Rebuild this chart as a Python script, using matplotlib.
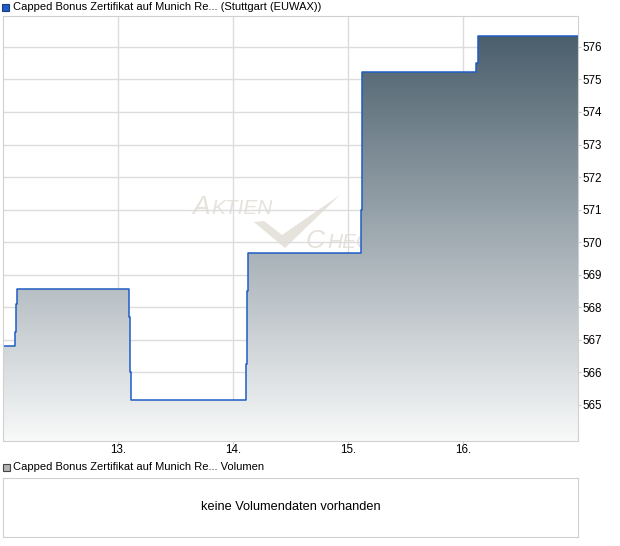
import matplotlib.pyplot as plt
import numpy as np
from matplotlib.colors import LinearSegmentedColormap
from matplotlib.patches import Polygon, Rectangle

plt.rcParams['font.family'] = ['Liberation Sans', 'DejaVu Sans']

# step data (day of month, price)
times = [12.0, 12.107, 12.116, 12.124, 13.098, 13.107, 13.116,
         14.116, 14.124, 14.133, 15.113, 15.126, 16.116, 16.128, 17.0]
prices = [566.8, 567.25, 568.1, 568.55, 567.7, 566.0, 565.15,
          566.25, 568.5, 569.67, 571.0, 575.22, 575.5, 576.33, 576.33]
xticks = [13, 14, 15, 16]
xlabels = ['13.', '14.', '15.', '16.']
yticks = [565, 566, 567, 568, 569, 570, 571, 572, 573, 574, 575, 576]

title = 'Capped Bonus Zertifikat auf Munich Re... (Stuttgart (EUWAX))'
vol_title = 'Capped Bonus Zertifikat auf Munich Re... Volumen'
no_vol = 'keine Volumendaten vorhanden'

W, H = 620, 546
grid_c = '#dcdcdc'
spine_c = '#d0d0d0'
wm_c = '#e6e2dc'


def fx(x):
    return x / W


def fy(y):
    return 1 - y / H


fig = plt.figure(figsize=(6.2, 5.46), dpi=100)

ax = fig.add_axes([fx(3), fy(441), 575 / W, 425 / H])
ymin, ymax = 563.89, 576.95
ax.set_xlim(12, 17)
ax.set_ylim(ymin, ymax)
ax.set_axisbelow(True)
ax.grid(True, color=grid_c, lw=1)
ax.set_xticks(xticks)
ax.set_xticklabels(xlabels)
ax.set_yticks(yticks)
ax.yaxis.tick_right()
ax.tick_params(axis='both', length=2, color=spine_c, labelsize=8.4)
ax.tick_params(axis='x', pad=0.5)
ax.tick_params(axis='y', pad=1.5)
for s in ax.spines.values():
    s.set_color(spine_c)

# gradient fill clipped to step area
cmap = LinearSegmentedColormap.from_list('g', ['#f8f9f9', '#425765'])
grad = np.linspace(0, 1, 256).reshape(-1, 1)
im = ax.imshow(grad, extent=[12, 17, ymin, ymax], origin='lower', aspect='auto',
               cmap=cmap, zorder=1, interpolation='bilinear')
poly = ax.fill_between(times, prices, ymin, step='post', facecolor='none',
                       edgecolor='none', zorder=1)
im.set_clip_path(poly.get_paths()[0], transform=ax.transData)
ax.step(times, prices, where='post', color='#1f5cc6', lw=1.1, zorder=2)

# watermark
ax.text(fx(192), fy(214), 'A', transform=fig.transFigure, fontsize=19,
        style='italic', color=wm_c, zorder=0.3)
ax.text(fx(211), fy(214), 'KTIEN', transform=fig.transFigure, fontsize=15,
        style='italic', color=wm_c, zorder=0.3)
ax.text(fx(306), fy(248), 'C', transform=fig.transFigure, fontsize=19,
        style='italic', color=wm_c, zorder=0.3)
ax.text(fx(327), fy(248), 'HECK', transform=fig.transFigure, fontsize=15,
        style='italic', color=wm_c, zorder=0.3)
check = [(254, 222), (264, 221), (282, 235), (340, 195), (285, 248)]
ax.add_patch(Polygon([(fx(x), fy(y)) for x, y in check], closed=True,
                     transform=fig.transFigure, facecolor=wm_c,
                     edgecolor='none', zorder=0.3))

# top legend
fig.patches.append(Rectangle((fx(2), fy(11)), 7 / W, 7 / H, transform=fig.transFigure,
                             facecolor='#1f5cc6', edgecolor='#1a3d80', lw=0.8))
fig.text(fx(13), fy(7.5), title, fontsize=8, va='center', ha='left')

# volume panel
fig.patches.append(Rectangle((fx(3), fy(471)), 7 / W, 7 / H, transform=fig.transFigure,
                             facecolor='#b4b4b4', edgecolor='#444444', lw=0.8))
fig.text(fx(13), fy(467.5), vol_title, fontsize=8, va='center', ha='left')

ax2 = fig.add_axes([fx(3), fy(537), 575 / W, 59 / H])
ax2.set_xticks([])
ax2.set_yticks([])
for s in ax2.spines.values():
    s.set_color(spine_c)
ax2.text(0.5, 0.5, no_vol, transform=ax2.transAxes, ha='center', va='center',
         fontsize=9.2)

fig.savefig('out.png', dpi=100)
